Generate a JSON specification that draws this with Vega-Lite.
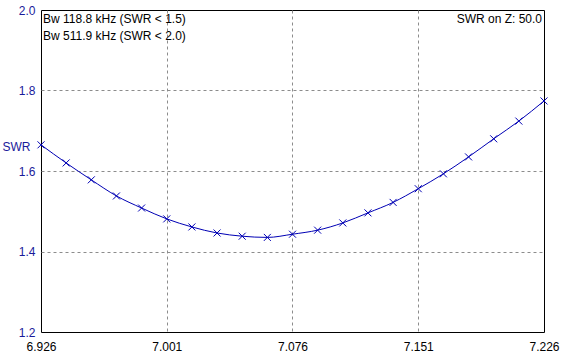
{
  "$schema": "https://vega.github.io/schema/vega-lite/v6.json",
  "width": 503,
  "height": 322,
  "autosize": "none",
  "padding": {"left": 41, "top": 10, "right": 22, "bottom": 29},
  "background": "white",
  "config": {
    "font": "Liberation Sans",
    "view": {"stroke": "black", "strokeWidth": 1},
    "axis": {"labelFont": "Liberation Sans", "labelFontSize": 12, "titleFont": "Liberation Sans", "titleFontSize": 12, "titleFontWeight": "normal"}
  },
  "datasets": {
    "swr": [
      {"f": 6.926, "swr": 1.665},
      {"f": 6.941, "swr": 1.620},
      {"f": 6.956, "swr": 1.578},
      {"f": 6.971, "swr": 1.538},
      {"f": 6.986, "swr": 1.508},
      {"f": 7.001, "swr": 1.481},
      {"f": 7.016, "swr": 1.461},
      {"f": 7.031, "swr": 1.446},
      {"f": 7.046, "swr": 1.438},
      {"f": 7.061, "swr": 1.435},
      {"f": 7.076, "swr": 1.443},
      {"f": 7.091, "swr": 1.453},
      {"f": 7.106, "swr": 1.471},
      {"f": 7.121, "swr": 1.496},
      {"f": 7.136, "swr": 1.522},
      {"f": 7.151, "swr": 1.556},
      {"f": 7.166, "swr": 1.593},
      {"f": 7.181, "swr": 1.635},
      {"f": 7.196, "swr": 1.680},
      {"f": 7.211, "swr": 1.724},
      {"f": 7.226, "swr": 1.774}
    ],
    "notesLeft": [
      {"label": "Bw 118.8 kHz (SWR < 1.5)", "f": 6.926, "swr": 2.0, "line": 0},
      {"label": "Bw 511.9 kHz (SWR < 2.0)", "f": 6.926, "swr": 2.0, "line": 1}
    ],
    "notesRight": [
      {"label": "SWR on Z: 50.0", "f": 7.226, "swr": 2.0}
    ]
  },
  "layer": [
    {
      "data": {"name": "swr"},
      "mark": {"type": "line", "color": "#0000b4", "strokeWidth": 1, "interpolate": "monotone"},
      "encoding": {
        "x": {
          "field": "f", "type": "quantitative",
          "scale": {"domain": [6.926, 7.226], "nice": false, "zero": false},
          "axis": {
            "values": [6.926, 7.001, 7.076, 7.151, 7.226],
            "format": ".3f",
            "title": null,
            "ticks": false,
            "domain": false,
            "labelColor": "black",
            "labelPadding": 9,
            "labelBaseline": "top",
            "labelFlush": false,
            "grid": true,
            "gridColor": "#8c8c8c",
            "gridDash": [3, 3],
            "gridOpacity": {"condition": {"test": "datum.value > 6.93 && datum.value < 7.22", "value": 1}, "value": 0}
          }
        },
        "y": {
          "field": "swr", "type": "quantitative",
          "scale": {"domain": [1.2, 2.0], "nice": false, "zero": false},
          "axis": {
            "values": [1.2, 1.4, 1.6, 1.8, 2.0],
            "format": ".1f",
            "title": "SWR",
            "titleAngle": 0,
            "titleAlign": "left",
            "titleBaseline": "middle",
            "titleX": -39,
            "titleY": 136,
            "titleColor": "#1a1a9a",
            "ticks": false,
            "domain": false,
            "labelColor": "#1a1a9a",
            "labelPadding": 6,
            "labelFlush": false,
            "grid": true,
            "gridColor": "#8c8c8c",
            "gridDash": [3, 3],
            "gridOpacity": {"condition": {"test": "datum.value > 1.25 && datum.value < 1.95", "value": 1}, "value": 0}
          }
        }
      }
    },
    {
      "data": {"name": "swr"},
      "mark": {"type": "point", "shape": "M-1,-1L1,1M-1,1L1,-1", "filled": false, "stroke": "#0000b4", "strokeWidth": 1, "size": 49, "opacity": 1},
      "encoding": {
        "x": {"field": "f", "type": "quantitative"},
        "y": {"field": "swr", "type": "quantitative"}
      }
    },
    {
      "data": {"name": "notesLeft"},
      "transform": [{"filter": "datum.line == 0"}],
      "mark": {"type": "text", "align": "left", "baseline": "middle", "dx": 2, "dy": 9, "fontSize": 12, "color": "black"},
      "encoding": {
        "x": {"field": "f", "type": "quantitative"},
        "y": {"field": "swr", "type": "quantitative"},
        "text": {"field": "label"}
      }
    },
    {
      "data": {"name": "notesLeft"},
      "transform": [{"filter": "datum.line == 1"}],
      "mark": {"type": "text", "align": "left", "baseline": "middle", "dx": 2, "dy": 26, "fontSize": 12, "color": "black"},
      "encoding": {
        "x": {"field": "f", "type": "quantitative"},
        "y": {"field": "swr", "type": "quantitative"},
        "text": {"field": "label"}
      }
    },
    {
      "data": {"name": "notesRight"},
      "mark": {"type": "text", "align": "right", "baseline": "middle", "dx": -2, "dy": 9, "fontSize": 12, "color": "black"},
      "encoding": {
        "x": {"field": "f", "type": "quantitative"},
        "y": {"field": "swr", "type": "quantitative"},
        "text": {"field": "label"}
      }
    }
  ]
}
